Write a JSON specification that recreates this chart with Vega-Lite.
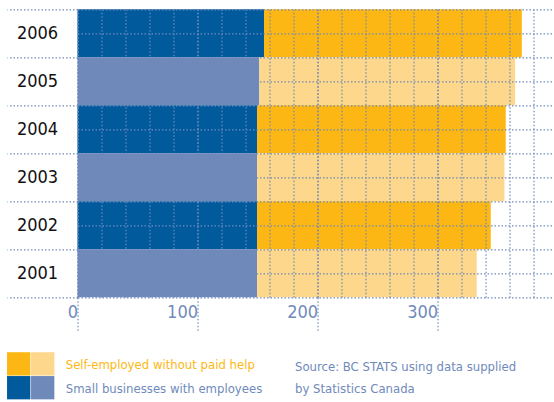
{
  "$schema": "https://vega.github.io/schema/vega-lite/v6.json",
  "width": 476.5,
  "height": 288,
  "autosize": {"type": "none"},
  "padding": {"left": 77.5, "top": 9.3, "right": 0, "bottom": 104.7},
  "background": "white",
  "config": {"view": {"stroke": null}, "font": "DejaVu Sans Condensed, Liberation Sans, sans-serif"},
  "title": {
    "text": ["Source: BC STATS using data supplied", "by Statistics Canada"],
    "orient": "bottom",
    "anchor": "start",
    "frame": "group",
    "dx": 217.5,
    "dy": -38.5,
    "offset": 0,
    "font": "DejaVu Sans Condensed, Liberation Sans, sans-serif",
    "fontSize": 13,
    "fontWeight": "normal",
    "color": "#6f8abb",
    "lineHeight": 22.3
  },
  "data": {
    "values": [
      {"year": "2006", "series": "Small businesses with employees", "value": 155.4},
      {"year": "2005", "series": "Small businesses with employees", "value": 151.5},
      {"year": "2004", "series": "Small businesses with employees", "value": 149.6},
      {"year": "2003", "series": "Small businesses with employees", "value": 149.6},
      {"year": "2002", "series": "Small businesses with employees", "value": 149.6},
      {"year": "2001", "series": "Small businesses with employees", "value": 149.6},
      {"year": "2006", "series": "Self-employed without paid help", "value": 214.8},
      {"year": "2005", "series": "Self-employed without paid help", "value": 213.1},
      {"year": "2004", "series": "Self-employed without paid help", "value": 207.2},
      {"year": "2003", "series": "Self-employed without paid help", "value": 206.1},
      {"year": "2002", "series": "Self-employed without paid help", "value": 194.7},
      {"year": "2001", "series": "Self-employed without paid help", "value": 183.0}
    ]
  },
  "transform": [
    {"calculate": "(toNumber(datum.year) % 2 == 0 ? 'dark|' : 'light|') + datum.series", "as": "shade"}
  ],
  "layer": [
    {
      "mark": {"type": "bar"},
      "encoding": {
        "y": {
          "field": "year", "type": "nominal", "sort": "descending",
          "scale": {"paddingInner": 0, "paddingOuter": 0},
          "axis": {
            "orient": "left", "title": null, "labels": false, "ticks": false, "domain": false,
            "grid": true, "gridColor": "#6f8abb", "gridDash": [1.5, 2], "gridWidth": 1.2, "zindex": 1
          }
        },
        "x": {
          "field": "value", "type": "quantitative", "stack": "zero",
          "scale": {"domain": [0, 397], "nice": false, "zero": true},
          "axis": {
            "orient": "bottom", "title": null,
            "values": [0, 20, 40, 60, 80, 100, 120, 140, 160, 180, 200, 220, 240, 260, 280, 300, 320, 340, 360, 380],
            "labels": false, "ticks": false, "domain": false,
            "grid": true, "gridColor": "#6f8abb", "gridDash": [1.5, 2], "gridWidth": 1.2, "zindex": 1
          }
        },
        "color": {
          "field": "shade", "type": "nominal",
          "scale": {
            "domain": ["dark|Self-employed without paid help", "light|Self-employed without paid help", "dark|Small businesses with employees", "light|Small businesses with employees"],
            "range": ["#fdb714", "#fdd78b", "#015a9c", "#6e89ba"]
          },
          "legend": {
            "orient": "none", "legendX": -70.8, "legendY": 342.4,
            "title": null, "columns": 2, "direction": "horizontal",
            "symbolType": "square", "symbolSize": 543, "symbolStrokeWidth": 0, "symbolOpacity": 1,
            "rowPadding": 0, "columnPadding": -2, "labelOffset": 0, "padding": 0,
            "labelFont": "DejaVu Sans Condensed, Liberation Sans, sans-serif", "labelFontSize": 13, "labelLimit": 400,
            "labelExpr": "indexof(datum.label, 'light|') == 0 ? slice(datum.label, 6) : ''",
            "encode": {"labels": {"update": {
              "fill": {"signal": "indexof(datum.value, 'Self') >= 0 ? '#fdb714' : '#6f8abb'"},
              "dx": {"signal": "indexof(datum.value, 'light|') == 0 ? 11 : 0"},
              "dy": {"value": 1.5}
            }}}
          }
        },
        "order": {"field": "series", "sort": "descending"}
      }
    },
    {
      "mark": {"type": "bar", "opacity": 0},
      "encoding": {
        "y": {
          "field": "year", "type": "nominal", "sort": "descending",
          "axis": {
            "orient": "left", "title": null, "domain": false, "tickBand": "extent",
            "ticks": true, "tickSize": 70.5, "tickColor": "#6f8abb", "tickDash": [1.5, 2], "tickWidth": 1.2,
            "grid": true, "gridColor": "#6f8abb", "gridDash": [1.5, 2], "gridWidth": 1.2, "zindex": 1,
            "labelAlign": "center", "labelBaseline": "middle", "labelPadding": -30, "labelDy": 4.5,
            "labelFont": "DejaVu Sans Condensed, Liberation Sans, sans-serif", "labelFontSize": 18, "labelColor": "#111111"
          }
        },
        "x": {
          "field": "value", "type": "quantitative", "stack": "zero",
          "axis": {
            "orient": "bottom", "title": null, "values": [0, 100, 200, 300, 400], "domain": false,
            "ticks": true, "tickSize": 35, "tickColor": "#6f8abb", "tickDash": [1.5, 2], "tickWidth": 1.2,
            "grid": true, "gridColor": "#6f8abb", "gridDash": [1.5, 2], "gridWidth": 1.2, "zindex": 1,
            "labelAlign": "right", "labelBaseline": "middle", "labelDx": -6, "labelPadding": -19.6,
            "labelFont": "DejaVu Sans Condensed, Liberation Sans, sans-serif", "labelFontSize": 18, "labelColor": "#6f8abb"
          }
        }
      }
    }
  ],
  "resolve": {"axis": {"x": "independent", "y": "independent"}}
}
